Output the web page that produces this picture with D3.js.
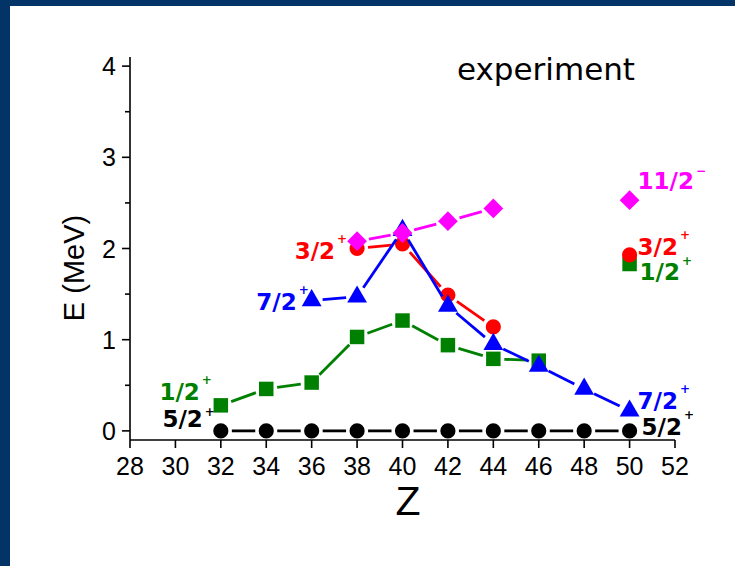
<!DOCTYPE html>
<html lang="en">
<head>
    <meta charset="UTF-8">
    <title>experiment - E vs Z</title>
    <script src="https://cdnjs.cloudflare.com/ajax/libs/d3/7.8.5/d3.min.js"></script>
    <style>
        body { margin: 0; background: #fff; }
        .tick-label { font-family: Arial, "Liberation Sans", sans-serif; font-size: 25px; fill: #000; }
        .axis-title { font-family: Arial, "Liberation Sans", sans-serif; fill: #000; }
        .state-label { font-family: "Comic Sans MS", "DejaVu Sans", sans-serif; font-weight: bold; font-size: 23px; }
        .state-sup { font-family: "DejaVu Sans", sans-serif; font-weight: bold; font-size: 12px; }
    </style>
</head>
<body>
    <div id="chart"></div>

    <script>
        // Chart data
        const zTicks = [28, 30, 32, 34, 36, 38, 40, 42, 44, 46, 48, 50, 52];
        const eTicks = [0, 1, 2, 3, 4];
        const eMinorTicks = [0.5, 1.5, 2.5, 3.5];

        // 5/2+ ground state
        const groundZ = [32, 34, 36, 38, 40, 42, 44, 46, 48, 50];
        const groundE = [0, 0, 0, 0, 0, 0, 0, 0, 0, 0];

        // 1/2+
        const halfZ = [32, 34, 36, 38, 40, 42, 44, 46];
        const halfE = [0.28, 0.46, 0.53, 1.03, 1.21, 0.94, 0.79, 0.77];
        const halfLoneZ = 50, halfLoneE = 1.83;

        // 3/2+
        const threeZ = [38, 40, 42, 44];
        const threeE = [2.0, 2.05, 1.49, 1.14];
        const threeLoneZ = 50, threeLoneE = 1.93;

        // 7/2+
        const sevenZ = [36, 38, 40, 42, 44, 46, 48, 50];
        const sevenE = [1.43, 1.47, 2.2, 1.37, 0.95, 0.71, 0.46, 0.22];

        // 11/2-
        const elevenZ = [38, 40, 42, 44];
        const elevenE = [2.08, 2.17, 2.30, 2.44];
        const elevenLoneZ = 50, elevenLoneE = 2.53;

        const W = 735, H = 566;
        const svg = d3.select("#chart").append("svg")
            .attr("width", W)
            .attr("height", H);

        // navy frame on the left and top
        svg.append("rect").attr("x", 0).attr("y", 0).attr("width", W).attr("height", 6).attr("fill", "#023468");
        svg.append("rect").attr("x", 0).attr("y", 0).attr("width", 10).attr("height", H).attr("fill", "#023468");

        const x = d3.scaleLinear().domain([28, 52]).range([130, 675]);
        const y = d3.scaleLinear().domain([-0.1, 4.1]).range([440, 57]);

        // Y axis
        svg.append("line")
            .attr("x1", x(28)).attr("x2", x(28))
            .attr("y1", y(4.1)).attr("y2", y(-0.1))
            .attr("stroke", "#000").attr("stroke-width", 1.6);
        svg.selectAll(".ytick").data(eTicks).enter().append("line")
            .attr("x1", x(28) - 8).attr("x2", x(28))
            .attr("y1", d => y(d)).attr("y2", d => y(d))
            .attr("stroke", "#000").attr("stroke-width", 1.6);
        svg.selectAll(".yminor").data(eMinorTicks).enter().append("line")
            .attr("x1", x(28) - 5).attr("x2", x(28))
            .attr("y1", d => y(d)).attr("y2", d => y(d))
            .attr("stroke", "#000").attr("stroke-width", 1.6);
        svg.selectAll(".ylab").data(eTicks).enter().append("text")
            .attr("class", "tick-label")
            .attr("x", x(28) - 14)
            .attr("y", d => y(d) + 9)
            .attr("text-anchor", "end")
            .text(d => d);

        // X axis
        svg.append("line")
            .attr("x1", x(28)).attr("x2", x(52))
            .attr("y1", y(-0.1)).attr("y2", y(-0.1))
            .attr("stroke", "#000").attr("stroke-width", 1.6);
        svg.selectAll(".xtick").data(zTicks).enter().append("line")
            .attr("x1", d => x(d)).attr("x2", d => x(d))
            .attr("y1", y(-0.1)).attr("y2", y(-0.1) + 8)
            .attr("stroke", "#000").attr("stroke-width", 1.6);
        svg.selectAll(".xlab").data(zTicks).enter().append("text")
            .attr("class", "tick-label")
            .attr("x", d => x(d))
            .attr("y", y(-0.1) + 35)
            .attr("text-anchor", "middle")
            .text(d => d);

        // axis titles
        svg.append("text")
            .attr("class", "axis-title")
            .attr("x", 408).attr("y", 515)
            .attr("text-anchor", "middle")
            .attr("font-size", 41)
            .text("Z");
        svg.append("text")
            .attr("class", "axis-title")
            .attr("transform", "translate(84,268) rotate(-90)")
            .attr("text-anchor", "middle")
            .attr("font-size", 29)
            .text("E (MeV)");

        svg.append("text")
            .attr("x", 546).attr("y", 80)
            .attr("text-anchor", "middle")
            .attr("font-family", "'Comic Sans MS', 'DejaVu Sans', sans-serif")
            .attr("font-size", 31)
            .text("experiment");

        // connecting lines, stopping short of the markers (Origin style gap)
        function drawLine(zs, es, color, gap) {
            const pts = zs.map((z, i) => [x(z), y(es[i])]);
            for (let i = 0; i < pts.length - 1; i++) {
                const [x1, y1] = pts[i], [x2, y2] = pts[i + 1];
                const len = Math.hypot(x2 - x1, y2 - y1);
                if (len <= 2 * gap) continue;
                const ux = (x2 - x1) / len, uy = (y2 - y1) / len;
                svg.append("line")
                    .attr("x1", x1 + ux * gap).attr("y1", y1 + uy * gap)
                    .attr("x2", x2 - ux * gap).attr("y2", y2 - uy * gap)
                    .attr("stroke", color).attr("stroke-width", 2.8);
            }
        }

        function drawMarkers(zs, es, color, shape, size) {
            svg.append("g").selectAll("path")
                .data(zs.map((z, i) => [z, es[i]]))
                .enter().append("path")
                .attr("transform", d => `translate(${x(d[0])},${y(d[1])})`)
                .attr("d", d3.symbol().type(shape).size(size))
                .attr("fill", color);
        }

        const diamond = {
            draw(ctx, size) {
                const r = Math.sqrt(size) / 2 * 1.4;
                ctx.moveTo(0, -r); ctx.lineTo(r, 0); ctx.lineTo(0, r); ctx.lineTo(-r, 0); ctx.closePath();
            }
        };

        drawLine(groundZ, groundE, "#000", 11);
        drawMarkers(groundZ, groundE, "#000", d3.symbolCircle, 180);

        drawLine(halfZ, halfE, "#008000", 11);
        drawMarkers(halfZ.concat([halfLoneZ]), halfE.concat([halfLoneE]), "#008000", d3.symbolSquare, 210);

        drawLine(threeZ, threeE, "#ff0000", 11);
        drawMarkers(threeZ.concat([threeLoneZ]), threeE.concat([threeLoneE]), "#ff0000", d3.symbolCircle, 180);

        drawLine(sevenZ, sevenE, "#0000ff", 11);
        drawMarkers(sevenZ, sevenE, "#0000ff", d3.symbolTriangle, 170);

        drawLine(elevenZ, elevenE, "#ff00ff", 12);
        drawMarkers(elevenZ.concat([elevenLoneZ]), elevenE.concat([elevenLoneE]), "#ff00ff", diamond, 200);

        // spin-parity labels next to the series ends
        function stateLabel(z, e, side, dx, dy, main, sup, color, supDy) {
            const t = svg.append("text")
                .attr("class", "state-label")
                .attr("y", y(e) + dy)
                .attr("fill", color);
            const m = t.append("tspan").text(main);
            t.append("tspan")
                .attr("class", "state-sup")
                .attr("dx", 2)
                .attr("dy", supDy)
                .text(sup);
            const w = m.node().getComputedTextLength();
            t.attr("x", side === "left" ? x(z) + dx - w : x(z) + dx);
        }

        stateLabel(groundZ[0], groundE[0], "left", -18, -4, "5/2", "+", "#000", -11);
        stateLabel(halfZ[0], halfE[0], "left", -21, -5, "1/2", "+", "#008000", -16);
        stateLabel(sevenZ[0], sevenE[0], "left", -15, 10, "7/2", "+", "#0000ff", -16);
        stateLabel(threeZ[0], threeE[0], "left", -22, 10, "3/2", "+", "#ff0000", -16);

        stateLabel(elevenLoneZ, elevenLoneE, "right", 8, -11, "11/2", "−", "#ff00ff", -14);
        stateLabel(threeLoneZ, threeLoneE, "right", 8, 0, "3/2", "+", "#ff0000", -16);
        stateLabel(halfLoneZ, halfLoneE, "right", 10, 16, "1/2", "+", "#008000", -15);
        stateLabel(sevenZ[sevenZ.length - 1], sevenE[sevenE.length - 1], "right", 8, -2, "7/2", "+", "#0000ff", -16);
        stateLabel(groundZ[groundZ.length - 1], groundE[groundE.length - 1], "right", 12, 4, "5/2", "+", "#000", -16);
    </script>
</body>
</html>
